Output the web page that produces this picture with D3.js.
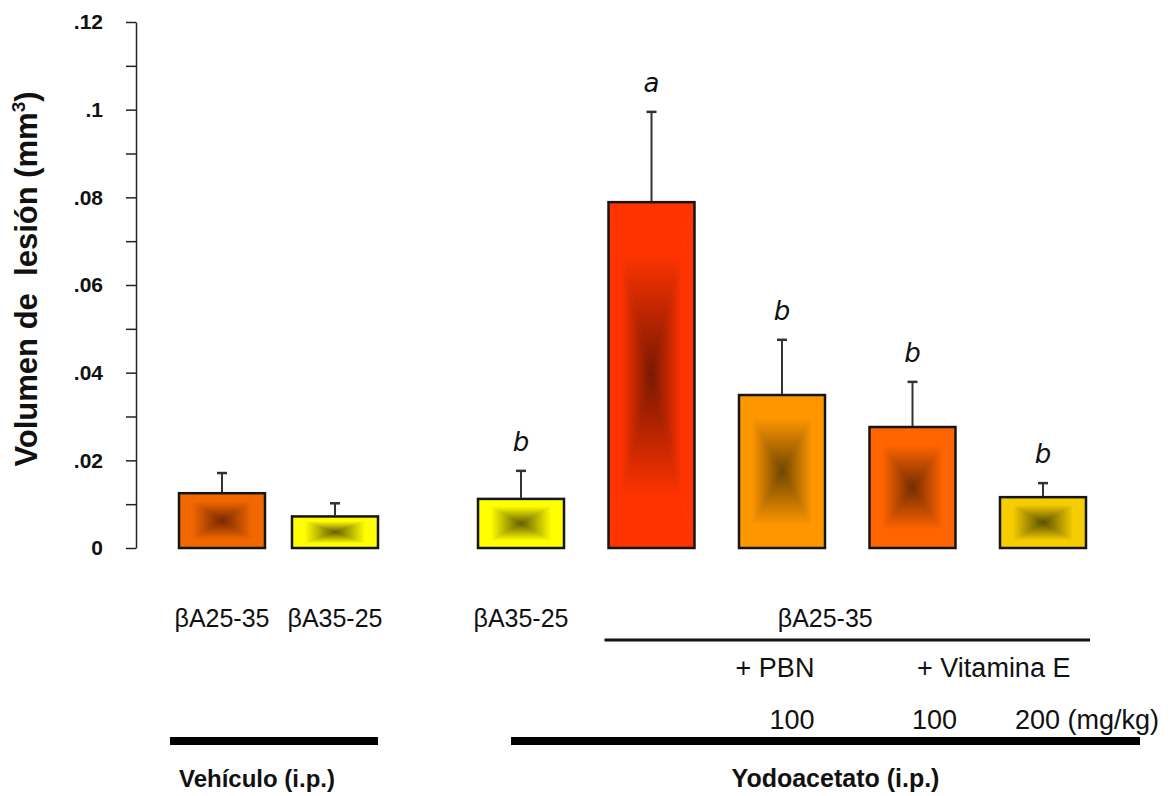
<!DOCTYPE html>
<html>
<head>
<meta charset="utf-8">
<script src="https://cdn.jsdelivr.net/npm/d3@7"></script>
<style>
  body { margin: 0; background: #fff; }
  text { font-family: Arial, "Liberation Sans", sans-serif; fill: #111; }
</style>
</head>
<body>
<div id="chart"></div>
<script>
// data
var groupNames = ["Vehículo (i.p.)", "Yodoacetato (i.p.)"];
var barIds = ["v1", "v2", "y1", "y2", "y3", "y4", "y5"];
var barGroup = [0, 0, 1, 1, 1, 1, 1];
var peptideLabels = ["βA25-35", "βA35-25", "βA35-25", "", "", "", ""];
var sharedPeptide = "βA25-35";          // over bars y2..y5
var treatments = ["+ PBN", "+ Vitamina E"];
var doses = ["", "", "", "", "100", "100", "200"];
var doseUnit = "(mg/kg)";
var means = [0.0125, 0.0072, 0.0112, 0.0789, 0.0349, 0.0276, 0.0116];
var sems = [0.0046, 0.0030, 0.0064, 0.0206, 0.0126, 0.0103, 0.0032];
var sigLetters = ["", "", "b", "a", "b", "b", "b"];
var yTicks = [0, 0.01, 0.02, 0.03, 0.04, 0.05, 0.06, 0.07, 0.08, 0.09, 0.10, 0.11, 0.12];
var yTickLabels = ["0", "", ".02", "", ".04", "", ".06", "", ".08", "", ".1", "", ".12"];

// colours: edge / centre of each bar's box gradient
var edgeColors = ["#f26800", "#ffff00", "#ffff00", "#ff3300", "#ff9600", "#ff6400", "#f5cd00"];
var centerColors = ["#782800", "#665e00", "#665e00", "#781800", "#6e4600", "#732c00", "#5a5000"];

var width = 1174, height = 796;
var barW = 86;

var svg = d3.select("#chart").append("svg")
    .attr("width", width)
    .attr("height", height);

var y = d3.scaleLinear().domain([0, 0.12]).range([548, 22]);

// one point scale per group (the two groups are spaced differently)
var xGroup = [
    d3.scalePoint().domain(barIds.filter(function (d, i) { return barGroup[i] === 0; }))
        .range([222, 335]),
    d3.scalePoint().domain(barIds.filter(function (d, i) { return barGroup[i] === 1; }))
        .range([521, 1043])
];
function xc(i) { return xGroup[barGroup[i]](barIds[i]); }

// y axis
var yAxis = d3.axisLeft(y)
    .tickValues(yTicks)
    .tickSize(10)
    .tickSizeOuter(0)
    .tickPadding(23)
    .tickFormat(function (d, i) { return yTickLabels[i]; });

var gy = svg.append("g")
    .attr("transform", "translate(136,0)")
    .call(yAxis);
gy.selectAll("path, line").attr("stroke", "#222").attr("stroke-width", 1.5);
gy.selectAll("text")
    .style("font-size", "21px")
    .style("font-weight", "bold")
    .attr("fill", "#111");

var title = svg.append("text")
    .attr("transform", "translate(37,279) rotate(-90)")
    .attr("text-anchor", "middle")
    .style("font-size", "31px")
    .style("font-weight", "bold");
title.append("tspan").text("Volumen de\u00a0 lesión (mm");
title.append("tspan").attr("dy", -12).style("font-size", "19px").text("3");
title.append("tspan").attr("dy", 12).text(")");

// gradients: four triangles per bar, each fading from edge colour to centre
var defs = svg.append("defs");
var dirs = [
    { k: "t", x1: 0, y1: 0, x2: 0, y2: 1 },
    { k: "b", x1: 0, y1: 1, x2: 0, y2: 0 },
    { k: "l", x1: 0, y1: 0, x2: 1, y2: 0 },
    { k: "r", x1: 1, y1: 0, x2: 0, y2: 0 }
];
barIds.forEach(function (id, i) {
    dirs.forEach(function (d) {
        var g = defs.append("linearGradient")
            .attr("id", "g-" + id + "-" + d.k)
            .attr("x1", d.x1).attr("y1", d.y1)
            .attr("x2", d.x2).attr("y2", d.y2);
        g.append("stop").attr("offset", 0).attr("stop-color", edgeColors[i]);
        g.append("stop").attr("offset", 0.3).attr("stop-color", edgeColors[i]);
        g.append("stop").attr("offset", 1).attr("stop-color", centerColors[i]);
    });
});

var bars = svg.selectAll("g.bar")
    .data(barIds)
    .enter()
    .append("g")
    .attr("class", "bar");

bars.each(function (id, i) {
    var g = d3.select(this);
    var x0 = xc(i) - barW / 2, x1 = xc(i) + barW / 2;
    var y0 = y(means[i]), y1 = y(0);
    var cx = xc(i), cy = (y0 + y1) / 2;
    var tris = {
        t: [[x0, y0], [x1, y0], [cx, cy]],
        b: [[x0, y1], [x1, y1], [cx, cy]],
        l: [[x0, y0], [x0, y1], [cx, cy]],
        r: [[x1, y0], [x1, y1], [cx, cy]]
    };
    dirs.forEach(function (d) {
        g.append("polygon")
            .attr("points", tris[d.k].map(function (p) { return p.join(","); }).join(" "))
            .attr("fill", "url(#g-" + id + "-" + d.k + ")")
            .attr("stroke", "url(#g-" + id + "-" + d.k + ")")
            .attr("stroke-width", 0.8);
    });
    g.append("rect")
        .attr("x", x0).attr("y", y0)
        .attr("width", barW).attr("height", y1 - y0)
        .attr("fill", "none")
        .attr("stroke", "#151515")
        .attr("stroke-width", 2.5);

    // upper error bar
    var ye = y(means[i] + sems[i]);
    g.append("line")
        .attr("x1", cx).attr("x2", cx)
        .attr("y1", y0 - 1).attr("y2", ye)
        .attr("stroke", "#333").attr("stroke-width", 2);
    g.append("line")
        .attr("x1", cx - 5).attr("x2", cx + 5)
        .attr("y1", ye).attr("y2", ye)
        .attr("stroke", "#333").attr("stroke-width", 2.5);

    if (sigLetters[i]) {
        g.append("text")
            .attr("x", cx).attr("y", ye - 20)
            .attr("text-anchor", "middle")
            .style("font-family", "'DejaVu Sans', sans-serif")
            .style("font-style", "italic")
            .style("font-size", "26px")
            .text(sigLetters[i]);
    }
});

// labels under the bars
svg.selectAll("text.pep")
    .data(peptideLabels)
    .enter()
    .append("text")
    .attr("class", "pep")
    .attr("x", function (d, i) { return xc(i); })
    .attr("y", 627)
    .attr("text-anchor", "middle")
    .style("font-size", "25px")
    .text(function (d) { return d; });

var first = 3, last = 6;
var lineX0 = xc(first) - barW / 2 - 4, lineX1 = xc(last) + barW / 2 + 4;
svg.append("text")
    .attr("x", (lineX0 + lineX1) / 2 - 22)
    .attr("y", 627)
    .attr("text-anchor", "middle")
    .style("font-size", "25px")
    .text(sharedPeptide);
svg.append("line")
    .attr("x1", lineX0).attr("x2", lineX1)
    .attr("y1", 640).attr("y2", 640)
    .attr("stroke", "#111").attr("stroke-width", 3);

// treatment row
svg.append("text")
    .attr("x", xc(4) - 7).attr("y", 677)
    .attr("text-anchor", "middle")
    .style("font-size", "27px")
    .text(treatments[0]);
svg.append("text")
    .attr("x", (xc(5) + xc(6)) / 2 + 16).attr("y", 677)
    .attr("text-anchor", "middle")
    .style("font-size", "27px")
    .text(treatments[1]);

// doses (the last one carries the unit)
svg.selectAll("text.dose")
    .data(doses)
    .enter()
    .append("text")
    .attr("class", "dose")
    .attr("x", function (d, i) { return i === doses.length - 1 ? xc(i) - 28 : xc(i) + 10 + (i === 5 ? 12 : 0); })
    .attr("y", 729)
    .attr("text-anchor", function (d, i) { return i === doses.length - 1 ? "start" : "middle"; })
    .style("font-size", "27px")
    .text(function (d, i) { return i === doses.length - 1 ? d + " " + doseUnit : d; });

// group lines and names
var groupSpans = [
    [xc(0) - barW / 2 - 9, xc(1) + barW / 2],
    [xc(2) - 10, xc(6) + barW / 2 + 54]
];
groupSpans.forEach(function (s, i) {
    svg.append("line")
        .attr("x1", s[0]).attr("x2", s[1])
        .attr("y1", 741).attr("y2", 741)
        .attr("stroke", "#000").attr("stroke-width", 8);
    svg.append("text")
        .attr("x", (s[0] + s[1]) / 2 + (i === 0 ? -17 : 10))
        .attr("y", 787)
        .attr("text-anchor", "middle")
        .style("font-size", i === 0 ? "24px" : "25px")
        .style("font-weight", "bold")
        .text(groupNames[i]);
});
</script>
</body>
</html>
